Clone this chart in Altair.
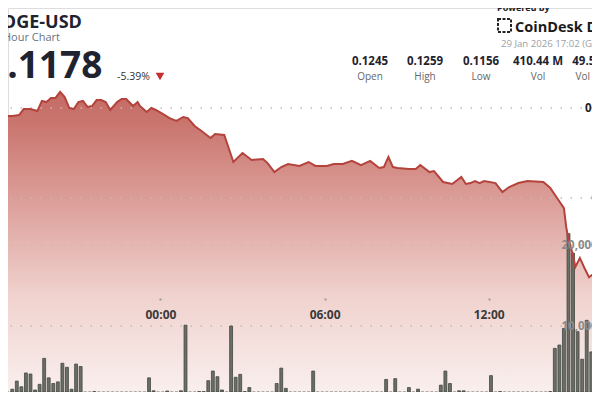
import altair as alt
import pandas as pd

# ---------------- data ----------------
# price line: minutes after 28 Jan 18:00 GMT, DOGE-USD price
price_minutes = [0, 20, 35, 50, 60, 75, 90, 100, 110, 120, 130, 140, 150, 160, 170,
                 180, 190, 200, 210, 220, 230, 240, 250, 265, 275, 285, 300, 310, 315,
                 330, 340, 350, 365, 380, 395, 410, 420, 435, 450, 470, 480, 500, 520,
                 540, 560, 585, 595, 610, 625, 640, 665, 685, 700, 725, 740, 760, 780,
                 800, 820, 840, 850, 860, 870, 880, 905, 920, 930, 950, 960, 980, 1000,
                 1020, 1030, 1040, 1050, 1060, 1070, 1095, 1110, 1125, 1145, 1165, 1200,
                 1215, 1230, 1245, 1250, 1255, 1265, 1270, 1280, 1290, 1300, 1315, 1330]
price_values = [0.12450, 0.12456, 0.12456, 0.12461, 0.12494, 0.12494, 0.12483, 0.12539,
                0.12533, 0.12556, 0.12556, 0.12590, 0.12561, 0.12500, 0.12494, 0.12533,
                0.12539, 0.12506, 0.12511, 0.12544, 0.12544, 0.12533, 0.12489, 0.12533,
                0.12550, 0.12550, 0.12511, 0.12533, 0.12511, 0.12478, 0.12500, 0.12489,
                0.12467, 0.12444, 0.12428, 0.12450, 0.12444, 0.12400, 0.12372, 0.12333,
                0.12356, 0.12350, 0.12200, 0.12250, 0.12211, 0.12217, 0.12194, 0.12144,
                0.12172, 0.12189, 0.12178, 0.12200, 0.12178, 0.12178, 0.12189, 0.12189,
                0.12206, 0.12183, 0.12206, 0.12167, 0.12172, 0.12228, 0.12172, 0.12167,
                0.12161, 0.12161, 0.12183, 0.12144, 0.12150, 0.12089, 0.12078, 0.12117,
                0.12078, 0.12083, 0.12094, 0.12083, 0.12094, 0.12083, 0.12033, 0.12061,
                0.12083, 0.12094, 0.12089, 0.12056, 0.12000, 0.11944, 0.11839, 0.11767,
                0.11683, 0.11617, 0.11667, 0.11611, 0.11560, 0.11589, 0.11600]

# 10-minute volume bars (millions), first bar starts 18:10
vol_first_start = 10
vol_step = 10
vol_millions = [2.0, 1.36, 2.2, 3.2, 2.5, 4.2, 4.07, 2.1, 2.8, 6.0,
                3.6, 2.9, 3.1, 5.4, 4.9, 2.2, 5.3, 5.0, 1.07, 1.07,
                1.9, 1.7, 1.07, 0.8, 1.27, 1.48, 0.7, 1.0, 0.6, 1.27,
                1.0, 1.07, 3.6, 2.0, 1.4, 1.6, 1.97, 0.9, 1.2, 2.0,
                10.1, 1.07, 0.6, 1.9, 1.9, 3.25, 4.44, 3.74, 2.1, 0.6,
                10.0, 3.67, 4.03, 1.9, 2.4, 1.6, 1.07, 1.56, 0.6, 1.48,
                2.9, 4.8, 2.3, 1.0, 1.2, 1.36, 0.5, 0.6, 4.44, 1.0,
                1.0, 1.2, 1.1, 0.6, 1.0, 0.6, 1.2, 1.0, 1.0, 0.5,
                0.5, 0.9, 1.8, 1.5, 3.4, 1.7, 3.5, 1.07, 0.6, 2.4,
                1.1, 2.2, 0.6, 0.6, 1.48, 1.4, 2.7, 4.44, 2.9, 0.6,
                2.0, 2.0, 1.07, 0.6, 1.0, 1.0, 1.6, 3.87, 1.07, 1.9,
                1.2, 1.6, 0.6, 0.6, 0.6, 0.6, 1.07, 1.7, 1.2, 1.4,
                1.9, 7.24, 7.65, 9.7, 21.4, 19.0, 9.3, 5.9, 10.7, 6.8, 8.5]

time_tick_minutes = [0, 360, 720, 1080]
time_tick_labels = ["18:00", "00:00", "06:00", "12:00"]
price_ticks = [0.12, 0.125]
volume_ticks = [10_000_000, 20_000_000]

stat_values = ["0.1245", "0.1259", "0.1156", "410.44 M", "49.55 M"]
stat_labels = ["Open", "High", "Low", "Vol", "Vol USD"]

# ---------------- tables ----------------
price_df = pd.DataFrame({"m": price_minutes, "price": price_values})
vol_df = pd.DataFrame({
    "m": [vol_first_start + vol_step * i + vol_step / 2 for i in range(len(vol_millions))],
    "vol": [v * 1e6 for v in vol_millions],
})
pgrid_df = pd.DataFrame({"p": price_ticks})
vgrid_df = pd.DataFrame({"v": volume_ticks})

W, H = 584, 384
FONT = "Open Sans"

x_scale = alt.Scale(domain=[36.65, 1295.6], nice=False, zero=False)
p_scale = alt.Scale(domain=[0.109222, 0.130556], nice=False, zero=False)
v_scale = alt.Scale(domain=[1851852, 49259259], nice=False, zero=False)

label_expr = " : ".join(
    f"datum.value == {m} ? '{t}'" for m, t in zip(time_tick_minutes, time_tick_labels)
) + " : ''"

time_axis = alt.Axis(orient="bottom", offset=-(H - 290), values=time_tick_minutes,
                     labelExpr=label_expr, tickSize=2, tickWidth=2, tickColor="#9a9a9a",
                     labelPadding=9.5, domain=False, grid=False, labelFontWeight="bold",
                     labelFontSize=12, labelColor="#3a3a3a", labelFlush=False,
                     labelOverlap=False, zindex=1, title=None, labelFont=FONT)
X = alt.X("m:Q", scale=x_scale, axis=time_axis)

price_axis = alt.Axis(orient="right", values=price_ticks, format=".3~f", ticks=False,
                      tickSize=0, domain=False, grid=False, labelAlign="right",
                      labelPadding=606 - W, labelFontWeight="bold", labelFontSize=11.5,
                      labelColor="#222222", zindex=1, title=None, labelFont=FONT)
vol_axis = alt.Axis(orient="left", offset=-553, values=volume_ticks, format=",d",
                    ticks=False, tickSize=0, domain=False, grid=False, labelAlign="left",
                    labelPadding=0, labelBaseline="middle", labelFontWeight="bold",
                    labelFontSize=11.5, labelColor="#8a8a8a", zindex=1, title=None,
                    labelFont=FONT)

grad = alt.Gradient(
    gradient="linear",
    stops=[alt.GradientStop(color="#c46b64", offset=0),
           alt.GradientStop(color="#c9756e", offset=0.1),
           alt.GradientStop(color="#dc9e99", offset=0.36),
           alt.GradientStop(color="#f0d2ce", offset=0.68),
           alt.GradientStop(color="#f9efed", offset=1)],
    x1=1, x2=1, y1=0, y2=1)

area = alt.Chart(price_df).mark_area(color=grad, clip=True).encode(
    x=X, y=alt.Y("price:Q", scale=p_scale, axis=price_axis, stack=None),
    y2=alt.value(H))
line = alt.Chart(price_df).mark_line(color="#b4433c", strokeWidth=2, clip=True).encode(
    x=X, y=alt.Y("price:Q", scale=p_scale, axis=None))
pgrid = alt.Chart(pgrid_df).mark_rule(color="#bdbdbd", strokeWidth=1.5,
                                      strokeDash=[1.5, 8.5]).encode(
    y=alt.Y("p:Q", scale=p_scale, axis=None))
vgrid = alt.Chart(vgrid_df).mark_rule(color="#bdbdbd", strokeWidth=1.5,
                                      strokeDash=[1.5, 8.5]).encode(
    y=alt.Y("v:Q", scale=v_scale, axis=None))
bars = alt.Chart(vol_df).mark_bar(size=2.9, color="#6a6e67", stroke="#43463f",
                                  strokeWidth=0.8, clip=True).encode(
    x=X, y=alt.Y("vol:Q", scale=v_scale, axis=vol_axis, stack=None), y2=alt.value(H))

one = pd.DataFrame({"k": [0]})


def txt(text, x, y, size, color="#1f2330", weight="normal", align="left"):
    return alt.Chart(one).mark_text(text=text, font=FONT, fontSize=size, color=color,
                                    fontWeight=weight, align=align,
                                    baseline="alphabetic").encode(
        x=alt.value(x), y=alt.value(y))


texts = [
    txt("DOGE-USD", -19.5, 20.3, 18, weight="bold"),
    txt("24 Hour Chart", -20.5, 33, 11, color="#6b7280"),
    txt("0.1178", -22, 70.3, 37, weight="bold"),
    txt("-5.39%", 109, 72, 10.5, color="#333333"),
    txt("Powered by", 489, 2.5, 9, weight="bold", color="#222222"),
    txt("CoinDesk Data", 507, 23.5, 14.5, weight="bold", color="#1a1a1a"),
    txt("29 Jan 2026 17:02 (GMT)", 493, 39, 9.6, color="#9aa0a6"),
]
stat_centers = [362, 417, 473, 530, 586]
for cx, val, lab in zip(stat_centers, stat_values, stat_labels):
    texts.append(txt(val, cx, 57, 11.5, weight="bold", align="center"))
    texts.append(txt(lab, cx, 72, 10, color="#666666", align="center"))

triangle = alt.Chart(one).mark_point(shape="triangle-down", size=75, filled=True,
                                     color="#c62f2f", opacity=1).encode(
    x=alt.value(152), y=alt.value(68.5))
logo = alt.Chart(one).mark_rect(filled=False, stroke="#222222", strokeWidth=2,
                                strokeDash=[3, 1.5]).encode(
    x=alt.value(490), x2=alt.value(503), y=alt.value(11), y2=alt.value(24))

chart = alt.layer(area, pgrid, vgrid, bars, line, triangle, logo, *texts).resolve_scale(
    y="independent"
).properties(
    width=W, height=H, autosize=alt.AutoSizeParams(type="none"), padding=0,
    background="white"
).configure_view(stroke=None).configure(font=FONT)

chart.save("out.html", embed_options={"renderer": "svg", "actions": False})
